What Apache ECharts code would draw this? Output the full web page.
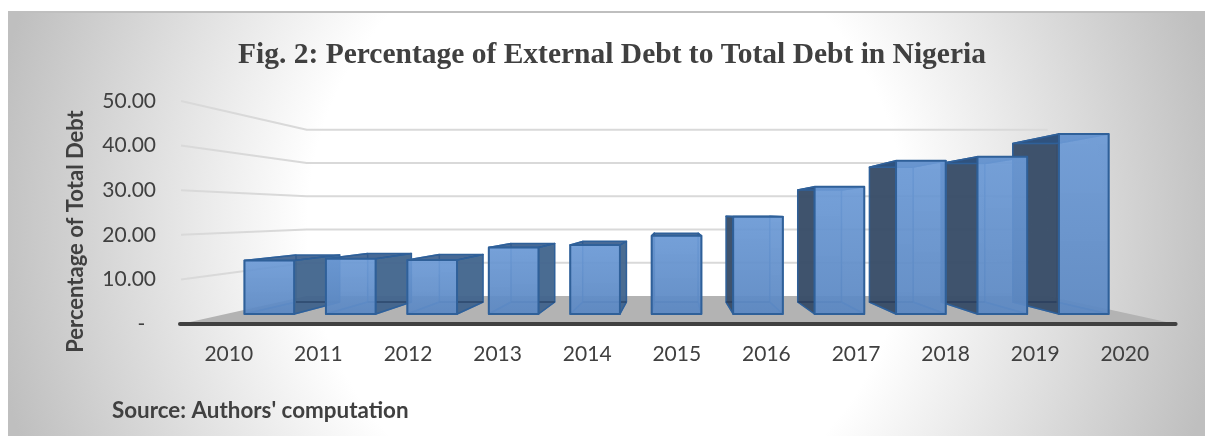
<!DOCTYPE html>
<html>
<head>
<meta charset="utf-8">
<style>
  html, body { margin: 0; padding: 0; background: #fff; width: 1205px; height: 436px; overflow: hidden; }
  #panel {
    position: absolute; left: 8px; top: 11px; width: 1197px; height: 424px;
    border-top: 2px solid #bfbfbf;
    background: radial-gradient(ellipse 52% 150% at 50% 50%, #ffffff 48%, #bfbfbf 100%);
  }
  #chart { position: absolute; left: 0; top: 0; width: 1205px; height: 436px; }
</style>
</head>
<body>
<div id="panel"></div>
<div id="chart"></div>
<script src="https://cdn.jsdelivr.net/npm/echarts@6/dist/echarts.min.js"></script>
<script>
// External debt share by year
const years = ['2010','2011','2012','2013','2014','2015','2016','2017','2018','2019','2020'];
const externalDebtShare = [13.2, 13.6, 13.3, 16.4, 17.0, 19.3, 24.0, 31.4, 37.8, 38.8, 44.4];
const gridValues = [10, 20, 30, 40, 50];

const textColor = '#404040';
const labelFont = 'Lato';

// One-point perspective: the axis plane is the nearest plane, and every
// deeper plane is that plane scaled towards the vanishing point.
const VANISH = [674, 214];
const DEPTH_BACK_WALL = 0.745;
const DEPTH_BAR_FRONT = 0.909;
const DEPTH_BAR_BACK = 0.80;
const BAR_HALF_BAND = 0.305;

function project(pt, k) {
  return [VANISH[0] + k * (pt[0] - VANISH[0]), VANISH[1] + k * (pt[1] - VANISH[1])];
}

function poly(points, style, z2) {
  return { type: 'polygon', shape: { points }, style: Object.assign({ lineJoin: 'round' }, style), z2, silent: true };
}
function line(points, stroke, lineWidth, z2, lineCap) {
  return { type: 'polyline', shape: { points }, style: { stroke, lineWidth, fill: null, lineCap: lineCap || 'butt', lineJoin: 'round' }, z2, silent: true };
}

// Floor, back-wall grid lines and the thick base line
function renderRoom(params, api) {
  const cs = params.coordSys;
  const left = cs.x - 3;
  const right = cs.x + cs.width + 6;
  const base = api.coord([0, 0])[1];
  const children = [];
  gridValues.forEach(v => {
    const y = api.coord([0, v])[1];
    children.push(line([[left, y], project([left, y], DEPTH_BACK_WALL), project([right, y], DEPTH_BACK_WALL)], '#d9d9d9', 2, 1));
  });
  children.push(poly([[left, base], project([left, base], DEPTH_BACK_WALL), project([right, base], DEPTH_BACK_WALL), [right, base]],
    { fill: '#b3b3b3' }, 2));
  children.push(line([[left - 1, base], [right, base]], '#404040', 4, 3, 'round'));
  return { type: 'group', children };
}

// One translucent box per year; boxes nearer the vanishing point paint last
function renderBox(params, api) {
  const c = api.value(0);
  const v = api.value(1);
  const half = api.size([1, 0])[0] * BAR_HALF_BAND;
  const b = api.coord([c, 0]);
  const t = api.coord([c, v]);
  const corners = k => ({
    bl: project([b[0] - half, b[1]], k), br: project([b[0] + half, b[1]], k),
    tl: project([t[0] - half, t[1]], k), tr: project([t[0] + half, t[1]], k)
  });
  const f = corners(DEPTH_BAR_FRONT);
  const r = corners(DEPTH_BAR_BACK);
  const rightOfVanish = b[0] > VANISH[0];
  const order = Math.round(1000 - Math.abs(b[0] - VANISH[0]) / 2) * 10;
  const edge = '#2f6099';
  const inner = 'rgba(66,120,185,0.85)';
  const sideFill = rightOfVanish ? 'rgba(56,76,102,0.95)' : 'rgba(64,99,139,0.92)';

  const sideFace = rightOfVanish
    ? [f.tl, r.tl, r.bl, f.bl]
    : [f.tr, r.tr, r.br, f.br];
  const farFace = rightOfVanish
    ? [f.tr, r.tr, r.br, f.br]
    : [f.tl, r.tl, r.bl, f.bl];

  return {
    type: 'group',
    children: [
      poly([r.tl, r.tr, r.br, r.bl], { fill: 'rgba(98,148,208,0.35)' }, order),
      poly(farFace, { fill: 'rgba(98,148,208,0.25)', stroke: inner, lineWidth: 1.5 }, order + 1),
      poly([f.bl, f.br, r.br, r.bl], { fill: 'rgba(70,120,185,0.35)', stroke: inner, lineWidth: 1.5 }, order + 2),
      poly(sideFace, { fill: sideFill, stroke: edge, lineWidth: 1.5 }, order + 3),
      line([r.bl, r.br], 'rgba(30,50,80,0.55)', 1.5, order + 4),
      poly([f.tl, f.tr, r.tr, r.tl], { fill: 'rgba(44,82,130,0.82)', stroke: edge, lineWidth: 1.5 }, order + 5),
      poly([f.tl, f.tr, f.br, f.bl], {
        fill: { type: 'linear', x: 0, y: 0, x2: 0, y2: 1, colorStops: [
          { offset: 0, color: 'rgba(108,154,214,0.90)' },
          { offset: 1, color: 'rgba(92,136,194,0.92)' }
        ] },
        stroke: edge, lineWidth: 2
      }, order + 6)
    ]
  };
}

const chart = echarts.init(document.getElementById('chart'), null, { renderer: 'canvas' });
chart.setOption({
  animation: false,
  backgroundColor: 'transparent',
  title: [
    {
      text: 'Fig. 2: Percentage of External Debt to Total Debt in Nigeria',
      left: 607, top: 35, textAlign: 'center',
      textStyle: { fontFamily: 'Liberation Serif', fontWeight: 'bold', fontSize: 29.5, color: textColor }
    },
    {
      text: "Source: Authors' computation",
      left: 107, top: 395,
      textStyle: { fontFamily: labelFont, fontWeight: 'bold', fontSize: 22.4, color: textColor }
    }
  ],
  grid: { left: 184, top: 101, width: 985.6, height: 223 },
  xAxis: {
    type: 'category', data: years,
    axisLine: { show: false }, axisTick: { show: false },
    axisLabel: { fontFamily: labelFont, fontSize: 21, color: textColor, margin: 20 }
  },
  yAxis: {
    type: 'value', min: 0, max: 50, interval: 10,
    name: 'Percentage of Total Debt',
    nameLocation: 'middle', nameRotate: 90, nameGap: 97,
    nameTextStyle: { fontFamily: labelFont, fontWeight: 'bold', fontSize: 22, color: textColor, padding: [0, 38, 0, 0] },
    axisLine: { show: false }, axisTick: { show: false }, splitLine: { show: false },
    axisLabel: {
      fontFamily: labelFont, fontSize: 21, color: textColor, margin: 28,
      formatter: v => v === 0 ? '-  ' : v.toFixed(2)
    }
  },
  series: [
    { type: 'custom', renderItem: renderRoom, data: [[0, 0]], z: 1, silent: true, clip: false },
    {
      type: 'custom', renderItem: renderBox, z: 2, silent: true, clip: false,
      encode: { x: 0, y: 1 },
      data: externalDebtShare.map((v, i) => [i, v])
    }
  ]
});
</script>
</body>
</html>
